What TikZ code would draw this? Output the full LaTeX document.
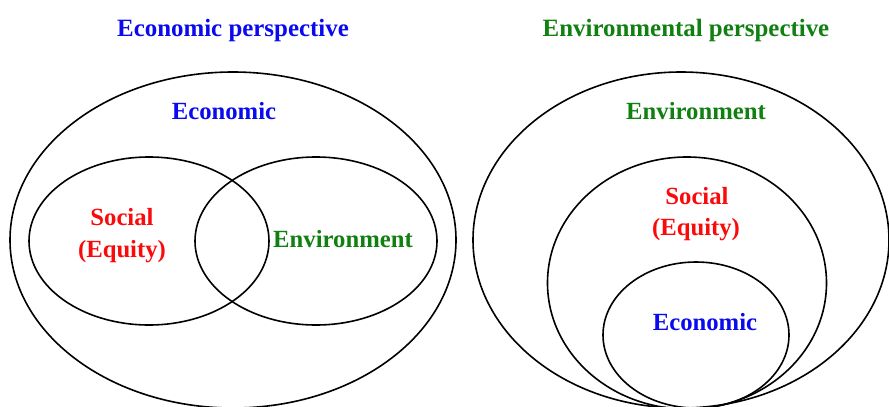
\documentclass[tikz,border=0pt]{standalone}
\usepackage{fontspec}
\setmainfont{Liberation Serif}
\usetikzlibrary{shapes.geometric}
\definecolor{ecoblue}{RGB}{10,10,240}
\definecolor{envgreen}{RGB}{16,128,16}
\definecolor{socred}{RGB}{250,10,10}
\tikzset{
  ring/.style={draw=black, line width=1.6pt, ellipse, inner sep=0pt},
  lbl/.style={font=\bfseries\fontsize{24.7}{32}\selectfont, anchor=base, inner sep=0pt},
  ttl/.style={font=\bfseries\fontsize{24.9}{32}\selectfont, anchor=base, inner sep=0pt},
}
\begin{document}
\begin{tikzpicture}[x=1pt,y=-1pt]
\useasboundingbox (0,0) rectangle (889,407);
\clip (0,0) rectangle (889,407);
% left diagram
\node[ring, minimum width=446pt, minimum height=336pt] (ecoL) at (233,240) {};
\node[ring, minimum width=240pt, minimum height=168pt] (socL) at (149,241) {};
\node[ring, minimum width=242pt, minimum height=168pt] (envL) at (316,241) {};
% right diagram
\node[ring, minimum width=416pt, minimum height=336pt] (envR) at (681,240) {};
\node[ring, minimum width=279pt, minimum height=252pt] (socR) at (687,283) {};
\node[ring, minimum width=186pt, minimum height=146pt] (ecoR) at (696,335) {};
% texts
\node[ttl, text=ecoblue] (t1) at (233,36) {Economic perspective};
\node[ttl, text=envgreen] (t2) at (686,36) {Environmental perspective};
\node[lbl, text=ecoblue] (l1) at (224,119) {Economic};
\node[lbl, text=socred] (l2) at (122,225) {Social};
\node[lbl, text=socred] (l3) at (122,257) {(Equity)};
\node[lbl, text=envgreen] (l4) at (343,247) {Environment};
\node[lbl, text=envgreen] (r1) at (696,119) {Environment};
\node[lbl, text=socred] (r2) at (697,204) {Social};
\node[lbl, text=socred] (r3) at (696,235) {(Equity)};
\node[lbl, text=ecoblue] (r4) at (705,330) {Economic};
\end{tikzpicture}
\end{document}
